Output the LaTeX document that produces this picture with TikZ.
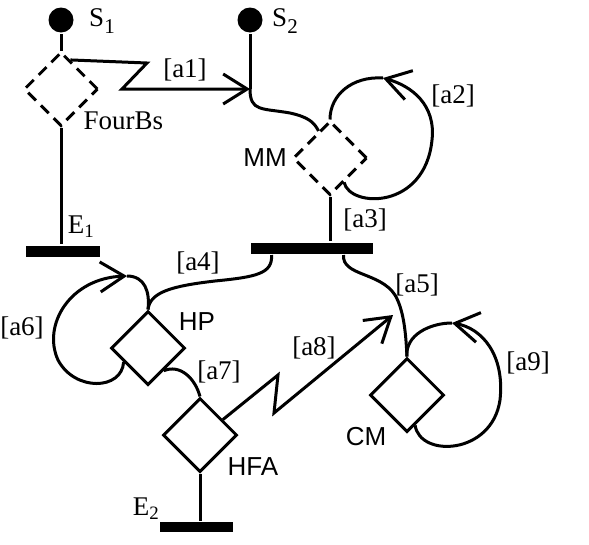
\documentclass[tikz,border=0pt]{standalone}
\usepackage{fontspec}
\setmainfont{Liberation Serif}
\setsansfont{Liberation Sans}
\usetikzlibrary{shapes.geometric,arrows.meta,calc}
\newcommand{\bigsub}[1]{\raisebox{-7pt}{\fontsize{21}{21}\selectfont #1}}
\tikzset{
  ln/.style={line width=3pt},
  act/.style={shape=diamond,draw,line width=3pt,minimum width=74pt,minimum height=74pt,inner sep=0pt,aspect=1},
  dashact/.style={act,dash pattern=on 11pt off 7pt},
  startpt/.style={circle,fill=black,minimum size=25pt,inner sep=0pt},
  endbar/.style={rectangle,fill=black,inner sep=0pt},
  serlab/.style={font=\fontsize{27}{27}\selectfont,inner sep=0pt},
  sanslab/.style={font=\sffamily\fontsize{26}{26}\selectfont,inner sep=0pt},
  barb/.style={-{Straight Barb[length=24pt,width=30pt,line width=3pt]}}
}
\begin{document}
\begin{tikzpicture}[x=1pt,y=-1pt,ln]
\useasboundingbox[fill=white] (0,0) rectangle (589,544);
% start points
\node[startpt] (S1) at (61,20) {};
\node[startpt] (S2) at (250,20) {};
\node[serlab] (lS1) at (102,21) {S\bigsub{1}};
\node[serlab] (lS2) at (285,21) {S\bigsub{2}};
% activities
\node[dashact] (FB) at (61,89) {};
\node[dashact] (MM) at (330,158) {};
\node[act] (HP) at (148,348) {};
\node[act] (HFA) at (200,435) {};
\node[act] (CM) at (407,395) {};
% bars
\node[endbar,minimum width=74pt,minimum height=11pt] (E1) at (63,251) {};
\node[endbar,minimum width=122pt,minimum height=11pt] (B) at (312,248) {};
\node[endbar,minimum width=73pt,minimum height=10pt] (E2) at (196,527) {};
% labels
\node[serlab,anchor=west] (lFB) at (82,121) {FourBs};
\node[serlab] (lE1) at (81,227) {E\textsubscript{1}};
\node[serlab] (lE2) at (146,509) {E\textsubscript{2}};
\node[sanslab] (lMM) at (265,158) {MM};
\node[sanslab] (lHP) at (197,322) {HP};
\node[sanslab] (lHFA) at (253,467) {HFA};
\node[sanslab] (lCM) at (366,437) {CM};
\node[serlab] (la1) at (185,70) {[a1]};
\node[serlab] (la2) at (453,96) {[a2]};
\node[serlab] (la3) at (365,220) {[a3]};
\node[serlab] (la4) at (198,263) {[a4]};
\node[serlab] (la5) at (417,285) {[a5]};
\node[serlab] (la6) at (22,328) {[a6]};
\node[serlab] (la7) at (219,372) {[a7]};
\node[serlab] (la8) at (314,348) {[a8]};
\node[serlab] (la9) at (528,363) {[a9]};
% junction on S2 line
\coordinate (j1) at (250,89);
% connectors
\draw (S1) -- (FB.north);
\draw (FB.south) -- (FB.south |- E1.north);
\draw (S2) -- (j1);
\draw (j1) .. controls (250,112) and (262,108) .. (290,113) .. controls (308,117) and (314,122) .. (MM.113);
\draw[barb] (FB.72) -- (147,63) -- (122,89) -- (j1);
% a2 loop
\draw[barb] (MM.-60) .. controls (350,208) and (425,210) .. (432,140) .. controls (436,105) and (412,86) .. (383,78);
\draw (383,78) .. controls (352,76) and (330,95) .. (MM.north);
% a3
\draw (MM.south) -- (MM.south |- B.north);
% a4
\draw ([xshift=22pt]B.south west) .. controls (273,274) and (255,277) .. (215,281) .. controls (172,286) and (150,292) .. (HP.north);
% a6 loop
\draw[barb] (HP.-150) .. controls (122,390) and (75,392) .. (58,360) .. controls (42,325) and (70,278) .. (127,276);
\draw (127,276) .. controls (145,276) and (150,292) .. (HP.north);
% a7
\draw (HP.-55) .. controls (180,364) and (195,378) .. (HFA.north);
% HFA to E2
\draw (HFA.south) -- (HFA.south |- E2.north);
% a8
\draw[barb] (HFA.34) -- (278,375) -- (274,413) -- (393,315);
% a5
\draw ([xshift=-31pt]B.south east) .. controls (342,276) and (380,272) .. (395,295) .. controls (405,312) and (406,340) .. (CM.north);
% a9 loop
\draw[barb] (CM.-75) .. controls (420,458) and (492,455) .. (500,400) .. controls (505,355) and (482,328) .. (452,323);
\draw (452,323) .. controls (430,323) and (405,335) .. (CM.north);
\end{tikzpicture}
\end{document}
